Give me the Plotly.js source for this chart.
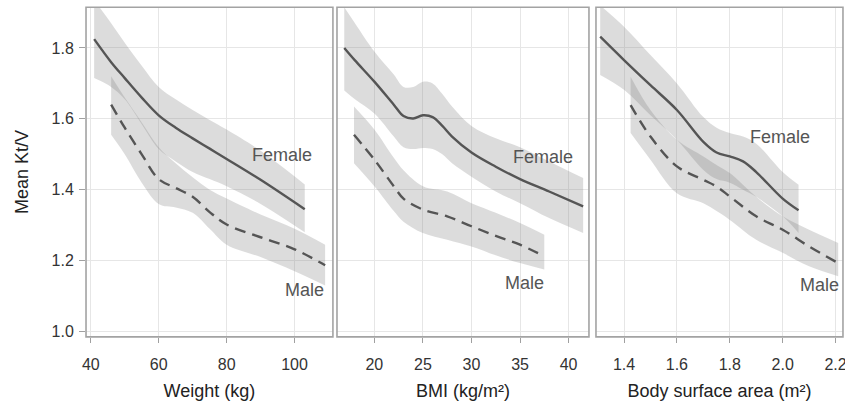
<!DOCTYPE html>
<html><head><meta charset="utf-8">
<script src="https://cdn.plot.ly/plotly-3.0.1.min.js"></script>
<style>html,body{margin:0;padding:0;background:#fff}#chart{width:845px;height:401px}</style>
</head><body><div id="chart"></div>
<script>
// Panel 1: Weight (kg)
const wtFemaleX  = [41, 46, 50, 55, 60, 65, 70, 75, 80, 90, 103];
const wtFemaleM  = [1.825, 1.76, 1.715, 1.66, 1.61, 1.575, 1.545, 1.516, 1.487, 1.428, 1.345];
const wtFemaleHi = [1.935, 1.87, 1.815, 1.75, 1.69, 1.655, 1.625, 1.597, 1.57, 1.51, 1.415];
const wtFemaleLo = [1.715, 1.69, 1.655, 1.585, 1.515, 1.48, 1.45, 1.43, 1.41, 1.36, 1.28];
const wtMaleX  = [46, 50, 55, 60, 65, 70, 75, 80, 90, 100, 109];
const wtMaleM  = [1.64, 1.575, 1.50, 1.43, 1.405, 1.38, 1.337, 1.302, 1.266, 1.232, 1.187];
const wtMaleHi = [1.72, 1.66, 1.59, 1.52, 1.475, 1.435, 1.40, 1.375, 1.33, 1.29, 1.245];
const wtMaleLo = [1.555, 1.50, 1.42, 1.36, 1.35, 1.335, 1.29, 1.245, 1.21, 1.17, 1.13];
// Panel 2: BMI (kg/m²)
const bmiFemaleX  = [16.9, 18, 20, 22, 23, 24, 25, 26, 27, 28, 30, 32.5, 35, 38, 41.5];
const bmiFemaleM  = [1.80, 1.765, 1.705, 1.64, 1.608, 1.601, 1.61, 1.605, 1.58, 1.55, 1.505, 1.465, 1.43, 1.395, 1.353];
const bmiFemaleHi = [1.915, 1.87, 1.79, 1.725, 1.69, 1.69, 1.705, 1.70, 1.67, 1.635, 1.58, 1.545, 1.52, 1.48, 1.433];
const bmiFemaleLo = [1.68, 1.655, 1.615, 1.55, 1.52, 1.515, 1.518, 1.515, 1.50, 1.475, 1.437, 1.395, 1.362, 1.32, 1.278];
const bmiMaleX  = [17.9, 20, 22, 23, 25, 27.5, 30, 32.5, 35, 37.5];
const bmiMaleM  = [1.555, 1.485, 1.41, 1.375, 1.344, 1.325, 1.297, 1.27, 1.245, 1.212];
const bmiMaleHi = [1.635, 1.57, 1.49, 1.455, 1.41, 1.395, 1.362, 1.335, 1.306, 1.273];
const bmiMaleLo = [1.475, 1.41, 1.34, 1.31, 1.278, 1.259, 1.24, 1.215, 1.193, 1.175];
// Panel 3: Body surface area (m²)
const bsaFemaleX  = [1.31, 1.4, 1.5, 1.6, 1.7, 1.75, 1.8, 1.85, 1.9, 2.0, 2.06];
const bsaFemaleM  = [1.832, 1.766, 1.695, 1.625, 1.535, 1.505, 1.494, 1.48, 1.45, 1.375, 1.342];
const bsaFemaleHi = [1.92, 1.86, 1.78, 1.70, 1.605, 1.575, 1.56, 1.55, 1.53, 1.45, 1.414];
const bsaFemaleLo = [1.724, 1.682, 1.61, 1.541, 1.456, 1.43, 1.42, 1.40, 1.38, 1.325, 1.278];
const bsaMaleX  = [1.425, 1.5, 1.6, 1.7, 1.75, 1.8, 1.9, 2.0, 2.1, 2.21];
const bsaMaleM  = [1.639, 1.55, 1.466, 1.428, 1.409, 1.381, 1.325, 1.287, 1.24, 1.193];
const bsaMaleHi = [1.719, 1.625, 1.541, 1.494, 1.47, 1.447, 1.38, 1.325, 1.287, 1.25];
const bsaMaleLo = [1.56, 1.485, 1.39, 1.362, 1.34, 1.315, 1.259, 1.222, 1.184, 1.156];

const xTitles = ['Weight (kg)', 'BMI (kg/m²)', 'Body surface area (m²)'];
const groupLabels = ['Female', 'Male'];

const bandColor = 'rgba(128,128,128,0.28)';
const lineColor = '#555555';
const dashed = '11px,7px';

function band(x, hi, lo, xa) {
  const base = {x: x, xaxis: xa, yaxis: 'y', type: 'scatter', mode: 'lines',
    line: {width: 0, shape: 'spline', color: 'rgba(0,0,0,0)'}, hoverinfo: 'skip', showlegend: false};
  return [Object.assign({}, base, {y: lo}),
          Object.assign({}, base, {y: hi, fill: 'tonexty', fillcolor: bandColor})];
}
function mean(x, y, xa, dash) {
  return {x: x, y: y, xaxis: xa, yaxis: 'y', type: 'scatter', mode: 'lines',
    line: {color: lineColor, width: 2.4, dash: dash, shape: 'spline'}, showlegend: false};
}

const traces = [].concat(
  band(wtFemaleX, wtFemaleHi, wtFemaleLo, 'x'), band(wtMaleX, wtMaleHi, wtMaleLo, 'x'),
  band(bmiFemaleX, bmiFemaleHi, bmiFemaleLo, 'x2'), band(bmiMaleX, bmiMaleHi, bmiMaleLo, 'x2'),
  band(bsaFemaleX, bsaFemaleHi, bsaFemaleLo, 'x3'), band(bsaMaleX, bsaMaleHi, bsaMaleLo, 'x3'),
  [mean(wtFemaleX, wtFemaleM, 'x', 'solid'), mean(wtMaleX, wtMaleM, 'x', dashed),
   mean(bmiFemaleX, bmiFemaleM, 'x2', 'solid'), mean(bmiMaleX, bmiMaleM, 'x2', dashed),
   mean(bsaFemaleX, bsaFemaleM, 'x3', 'solid'), mean(bsaMaleX, bsaMaleM, 'x3', dashed)]
);

const font = {family: 'Liberation Sans, Arial, sans-serif', size: 16, color: '#333'};
function xax(domain, range, dtick, title, fmt) {
  return {domain: domain, range: range, dtick: dtick, tickformat: fmt, anchor: 'y',
    showline: false, showgrid: true, gridcolor: '#e6e6e6', gridwidth: 1, zeroline: false,
    ticks: 'outside', ticklen: 5, tickcolor: '#a0a0a0', ticklabeloverflow: 'allow',
    ticklabelstandoff: 8, tickfont: {size: 16, color: '#333'},
    title: {text: title, font: {size: 18, color: '#222'}, standoff: 12}};
}

const layout = {
  width: 845, height: 401, paper_bgcolor: '#fff', plot_bgcolor: '#fff', font: font,
  margin: {l: 0, r: 0, t: 0, b: 0},
  xaxis: xax([0.1018, 0.394], [38.6, 111.3], 20, xTitles[0], ''),
  xaxis2: xax([0.3988, 0.697], [16.15, 42.1], 5, xTitles[1], ''),
  xaxis3: xax([0.7053, 0.9976], [1.294, 2.228], 0.2, xTitles[2], '.1f'),
  yaxis: {domain: [0.16, 0.982], range: [0.985, 1.915], dtick: 0.2, tickformat: '.1f', anchor: 'x',
    showline: false, showgrid: true, gridcolor: '#e6e6e6', zeroline: false,
    ticks: 'outside', ticklen: 6, tickcolor: '#a0a0a0', tickfont: {size: 16, color: '#333'},
    ticklabelstandoff: 2,
    title: {text: 'Mean Kt/V', font: {size: 18, color: '#222'}, standoff: 18}},
  shapes: ['x', 'x2', 'x3'].map(a => ({type: 'rect', xref: a + ' domain', yref: 'y domain',
    x0: 0, x1: 1, y0: 0, y1: 1, layer: 'above', line: {color: '#a3a3a3', width: 1.6}})),
  annotations: [
    {x: 96.3, y: 1.499, xref: 'x', yref: 'y', text: groupLabels[0]},
    {x: 103, y: 1.118, xref: 'x', yref: 'y', text: groupLabels[1]},
    {x: 37.4, y: 1.493, xref: 'x2', yref: 'y', text: groupLabels[0]},
    {x: 35.5, y: 1.138, xref: 'x2', yref: 'y', text: groupLabels[1]},
    {x: 1.99, y: 1.549, xref: 'x3', yref: 'y', text: groupLabels[0]},
    {x: 2.141, y: 1.132, xref: 'x3', yref: 'y', text: groupLabels[1]}
  ].map(a => Object.assign(a, {showarrow: false, font: {size: 18, color: '#555'}}))
};

Plotly.newPlot('chart', traces, layout, {displayModeBar: false, staticPlot: true});
</script></body></html>
